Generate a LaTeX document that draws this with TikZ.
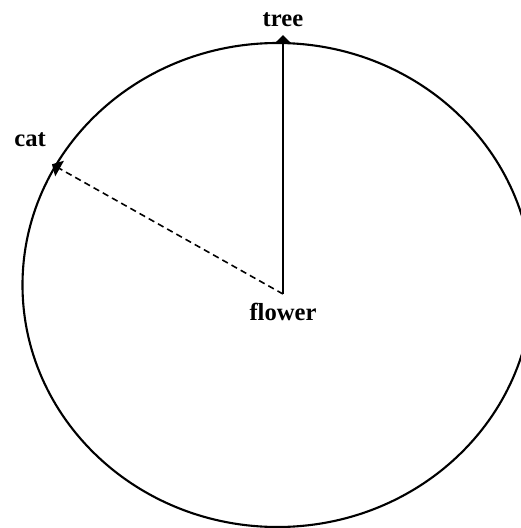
\documentclass[tikz,border=0pt]{standalone}
\usepackage{fontspec}
\setmainfont{Liberation Serif}
\usetikzlibrary{arrows.meta,calc,positioning}

\begin{document}
\begin{tikzpicture}[>={Triangle[width=10pt,length=5pt]},line join=round,
    lbl/.style={font=\bfseries\fontsize{14}{16}\selectfont,inner sep=4.5pt}]
  % ---- frame -------------------------------------------------------------
  \clip (-5.55,-4.86) rectangle (4.87,5.70);

  % ---- points ------------------------------------------------------------
  \coordinate (flower) at (0.11,-0.18);   % centre of the view
  \coordinate (tree)   at (0.11, 4.84);   % top of the ring
  \coordinate (cat)    at (-4.45,2.38);   % upper left on the ring

  % ---- the ring ----------------------------------------------------------
  \draw[line width=1.2pt] (0,0) ellipse [x radius=5.1,y radius=4.84];

  % ---- directions --------------------------------------------------------
  \draw[->,line width=0.7pt,shorten >=-4.5pt] (flower) -- (tree);
  \draw[->,line width=0.9pt,dash pattern=on 3.6pt off 2.4pt,
        shorten >=-2pt] (flower) -- (cat);

  % ---- labels ------------------------------------------------------------
  \node[lbl,above=4.5pt of tree] (treelbl) {tree};
  \node[lbl,above left=6.5pt and 0.5pt of cat] (catlbl) {cat};
  \node[lbl,below=0.6pt of flower] (flowerlbl) {flower};
\end{tikzpicture}
\end{document}
